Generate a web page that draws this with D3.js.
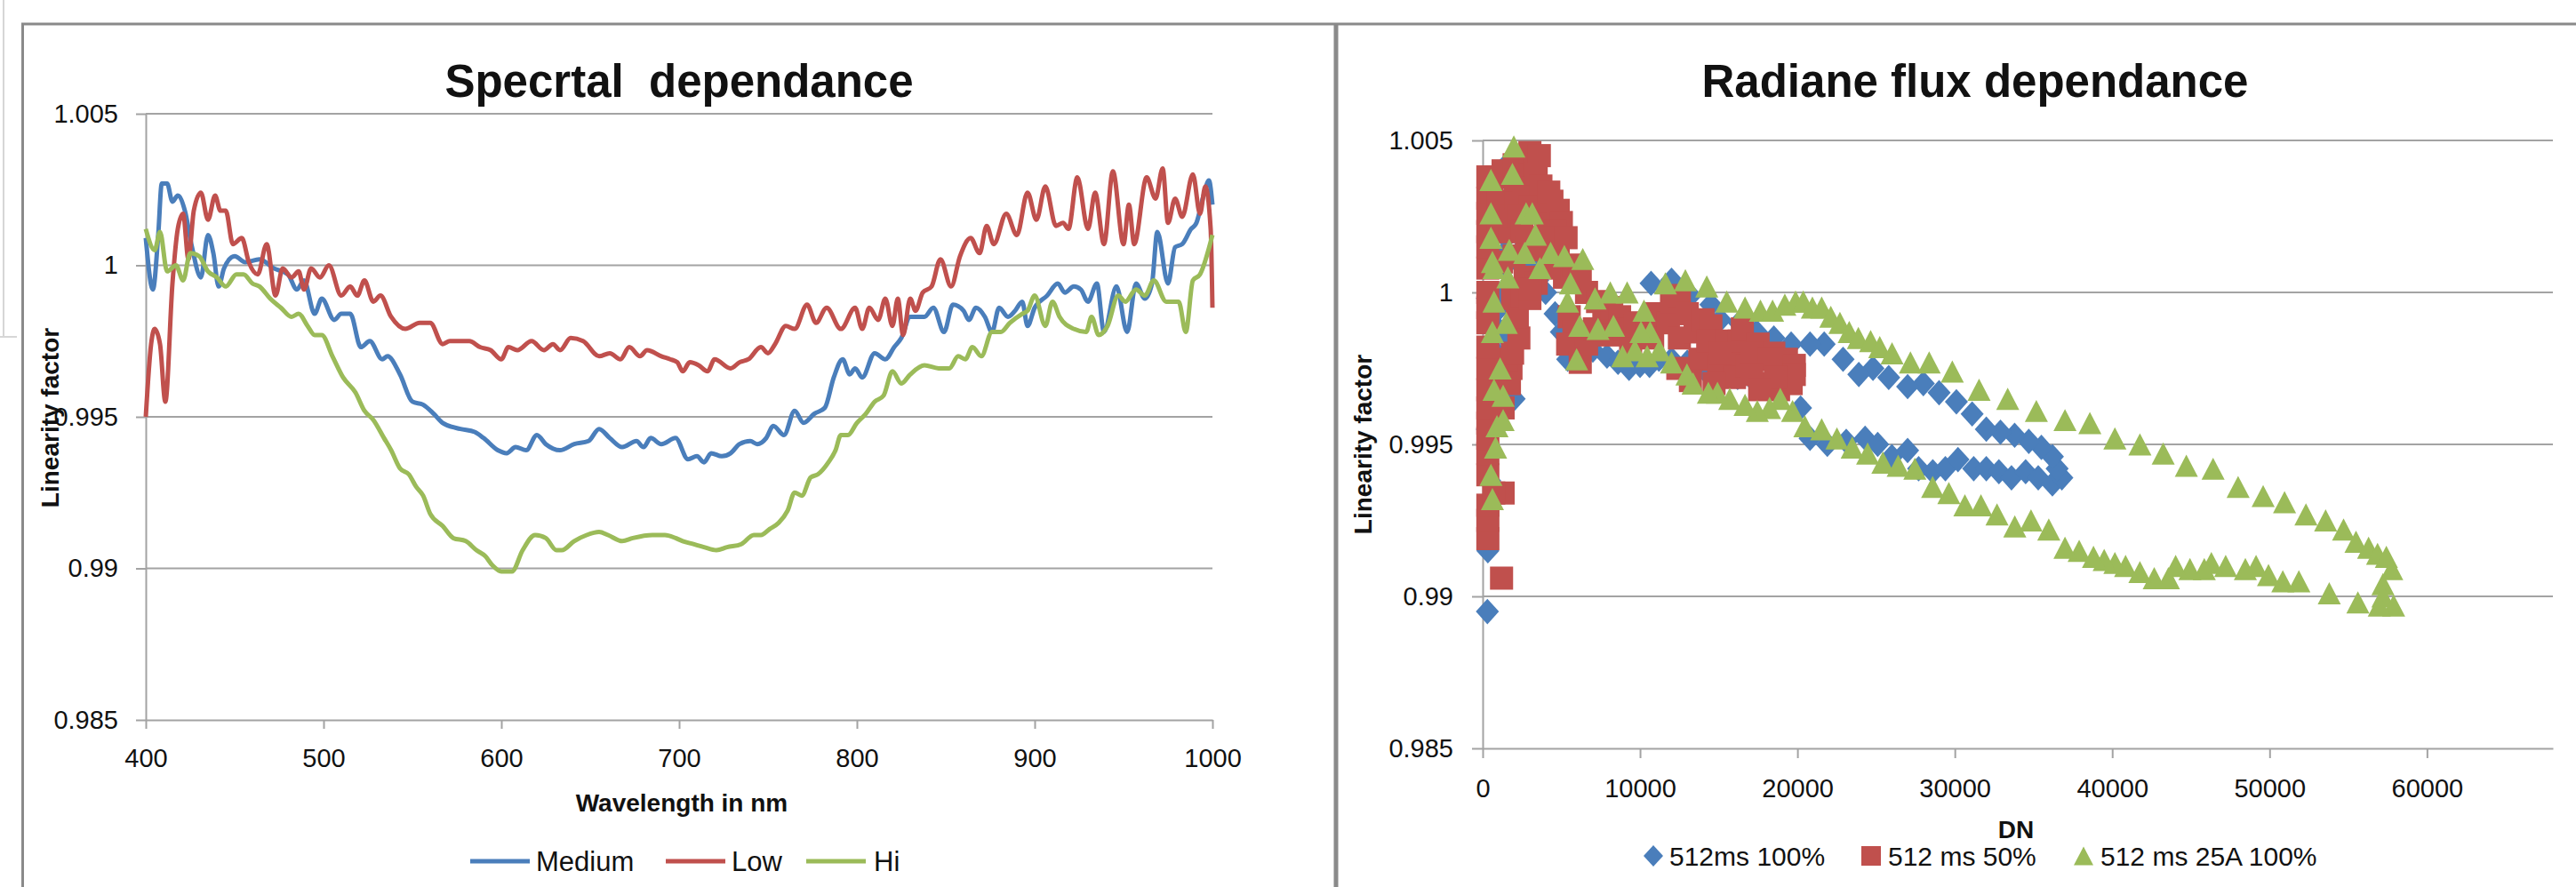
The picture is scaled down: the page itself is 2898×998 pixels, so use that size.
<!DOCTYPE html>
<html>
<head>
<meta charset="utf-8">
<script src="https://cdn.jsdelivr.net/npm/d3@7"></script>
<style>
  body { margin: 0; background: #fff; }
  svg { display: block; }
  text { font-family: "Liberation Sans", Arial, sans-serif; fill: #111; }
</style>
</head>
<body>
<svg width="2898" height="998"></svg>
<script>
"use strict";

// ---- data ----
const wavelengthTicks = [400, 500, 600, 700, 800, 900, 1000];
const dnTicks = [0, 10000, 20000, 30000, 40000, 50000, 60000];
const factorTicks = [0.985, 0.99, 0.995, 1, 1.005];
const spectralNames = ["Medium", "Low", "Hi"];
const fluxNames = ["512ms 100%", "512 ms 50%", "512 ms 25A 100%"];

// [wavelength nm, linearity factor]
const mediumData = [[400,1.0009],[404,0.9992],[407,1.0010],[409,1.0027],[412,1.0027],[415,1.0021],[418,1.0023],[422,1.0018],[426,1.0006],[431,0.9996],[435,1.0010],[438,1.0004],[441,0.9993],[444,0.9999],[450,1.0003],[456,1.0001],[464,1.0002],[472,0.9999],[480,0.9997],[485,0.9992],[489,0.9995],[495,0.9984],[499,0.9989],[506,0.9982],[510,0.9984],[515,0.9984],[521,0.9973],[526,0.9975],[533,0.9969],[536,0.9970],[543,0.9964],[550,0.9955],[556,0.9954],[562,0.9951],[567,0.9948],[577,0.9946],[585,0.9945],[590,0.9943],[598,0.9939],[603,0.9938],[608,0.9940],[614,0.9939],[620,0.9944],[625,0.9941],[633,0.9939],[641,0.9941],[649,0.9942],[655,0.9946],[661,0.9943],[668,0.9940],[676,0.9942],[680,0.9940],[684,0.9943],[690,0.9941],[698,0.9943],[705,0.9936],[710,0.9937],[714,0.9935],[718,0.9938],[724,0.9937],[729,0.9938],[734,0.9941],[740,0.9942],[744,0.9941],[749,0.9943],[753,0.9947],[759,0.9944],[765,0.9952],[770,0.9948],[776,0.9951],[782,0.9953],[787,0.9963],[792,0.9969],[796,0.9964],[799,0.9966],[803,0.9963],[810,0.9971],[816,0.9969],[821,0.9973],[825,0.9976],[830,0.9983],[838,0.9983],[843,0.9986],[849,0.9978],[854,0.9987],[860,0.9985],[863,0.9982],[867,0.9986],[872,0.9983],[876,0.9978],[880,0.9986],[885,0.9983],[889,0.9985],[893,0.9988],[896,0.9980],[900,0.9986],[907,0.9990],[913,0.9994],[917,0.9991],[922,0.9993],[926,0.9992],[930,0.9988],[935,0.9994],[939,0.9978],[946,0.9993],[952,0.9978],[957,0.9994],[962,0.9989],[966,0.9994],[969,1.0011],[975,0.9994],[979,1.0006],[983,1.0007],[988,1.0012],[991,1.0014],[995,1.0023],[998,1.0028],[1000,1.0020]];

const lowData = [[400,0.9950],[403,0.9974],[405,0.9979],[408,0.9974],[411,0.9955],[415,0.9994],[418,1.0012],[421,1.0017],[424,1.0002],[427,1.0018],[431,1.0024],[435,1.0015],[439,1.0023],[442,1.0018],[445,1.0018],[449,1.0007],[454,1.0009],[458,1.0001],[463,0.9997],[468,1.0007],[473,0.9990],[477,0.9999],[482,0.9996],[486,0.9998],[489,0.9992],[493,0.9999],[498,0.9996],[503,1.0000],[510,0.9990],[515,0.9993],[519,0.9990],[523,0.9995],[528,0.9988],[532,0.9990],[538,0.9983],[546,0.9979],[554,0.9981],[560,0.9981],[567,0.9974],[571,0.9975],[582,0.9975],[588,0.9973],[594,0.9972],[600,0.9969],[604,0.9973],[609,0.9972],[617,0.9975],[624,0.9972],[629,0.9974],[633,0.9972],[639,0.9976],[646,0.9975],[655,0.9970],[661,0.9971],[667,0.9969],[672,0.9973],[678,0.9970],[682,0.9972],[690,0.9970],[695,0.9969],[699,0.9968],[702,0.9965],[706,0.9968],[711,0.9967],[716,0.9965],[720,0.9969],[729,0.9966],[734,0.9968],[739,0.9969],[746,0.9973],[750,0.9971],[754,0.9974],[760,0.9980],[765,0.9979],[772,0.9987],[777,0.9981],[783,0.9986],[791,0.9979],[799,0.9986],[803,0.9979],[807,0.9986],[812,0.9982],[816,0.9989],[820,0.9980],[823,0.9989],[826,0.9977],[830,0.9989],[833,0.9985],[837,0.9991],[842,0.9993],[847,1.0002],[853,0.9993],[858,1.0003],[864,1.0009],[869,1.0004],[873,1.0013],[877,1.0007],[884,1.0017],[890,1.0010],[896,1.0024],[901,1.0015],[906,1.0026],[912,1.0013],[916,1.0014],[919,1.0012],[924,1.0029],[930,1.0012],[934,1.0024],[939,1.0007],[944,1.0031],[950,1.0007],[953,1.0020],[956,1.0007],[963,1.0029],[968,1.0022],[972,1.0032],[975,1.0014],[979,1.0022],[983,1.0016],[989,1.0030],[993,1.0017],[996,1.0026],[999,1.0012],[1000,0.9986]];

const hiData = [[400,1.0012],[405,1.0005],[408,1.0011],[412,0.9998],[417,1.0000],[421,0.9995],[425,1.0004],[430,1.0003],[435,0.9998],[440,0.9996],[445,0.9993],[451,0.9997],[455,0.9997],[460,0.9994],[464,0.9993],[470,0.9989],[476,0.9986],[482,0.9983],[486,0.9984],[491,0.9980],[495,0.9977],[499,0.9977],[505,0.9970],[511,0.9963],[518,0.9958],[523,0.9952],[528,0.9949],[534,0.9943],[538,0.9939],[543,0.9933],[548,0.9931],[552,0.9927],[556,0.9924],[560,0.9918],[567,0.9914],[573,0.9910],[580,0.9909],[586,0.9906],[591,0.9904],[595,0.9901],[600,0.9899],[606,0.9899],[612,0.9906],[619,0.9911],[625,0.9910],[631,0.9906],[634,0.9906],[641,0.9909],[648,0.9911],[655,0.9912],[660,0.9911],[668,0.9909],[674,0.9910],[685,0.9911],[692,0.9911],[698,0.9910],[702,0.9909],[708,0.9908],[714,0.9907],[721,0.9906],[727,0.9907],[735,0.9908],[742,0.9911],[746,0.9911],[751,0.9913],[756,0.9915],[761,0.9919],[765,0.9925],[769,0.9924],[774,0.9930],[778,0.9931],[784,0.9935],[788,0.9939],[791,0.9944],[795,0.9944],[800,0.9948],[805,0.9951],[810,0.9955],[815,0.9957],[820,0.9965],[825,0.9961],[830,0.9964],[838,0.9967],[846,0.9966],[852,0.9966],[857,0.9970],[861,0.9969],[865,0.9973],[870,0.9970],[876,0.9978],[881,0.9978],[886,0.9981],[893,0.9984],[896,0.9985],[900,0.9990],[906,0.9980],[910,0.9988],[914,0.9983],[922,0.9979],[929,0.9978],[932,0.9983],[936,0.9977],[941,0.9980],[947,0.9990],[951,0.9988],[957,0.9992],[962,0.9990],[967,0.9995],[974,0.9988],[981,0.9988],[985,0.9978],[989,0.9995],[993,0.9997],[1000,1.0010]];

// [DN, linearity factor]
const ms512Full = [[300,0.9895],[330,0.9915],[400,0.9929],[450,0.9938],[500,0.9948],[300,0.9955],[600,0.9960],[700,0.9965],[2000,0.9965],[800,0.9973],[900,0.9980],[1500,0.9985],[1000,0.9988],[300,0.9998],[1100,0.9995],[1200,1.0000],[1300,1.0008],[1400,1.0013],[1500,1.0018],[1600,1.0026],[1700,1.0043],[1900,1.0035],[2200,1.0024],[2600,1.0015],[3000,1.0009],[3500,1.0004],[4000,1.0000],[4600,0.9993],[5000,0.9987],[5400,0.9978],[6200,0.9980],[7000,0.9981],[7900,0.9979],[8600,0.9977],[9300,0.9975],[10000,0.9976],[10600,0.9976],[11200,0.9978],[12000,0.9978],[13000,0.9977],[14000,0.9975],[15000,0.9973],[16200,0.9972],[17400,0.9970],[19000,0.9968],[20200,0.9962],[20800,0.9952],[21900,0.9950],[23100,0.9951],[24300,0.9952],[25100,0.9950],[26000,0.9946],[27000,0.9948],[27700,0.9942],[28600,0.9941],[29400,0.9942],[30200,0.9945],[31200,0.9942],[32000,0.9942],[32800,0.9941],[33600,0.9939],[34500,0.9941],[35300,0.9939],[36200,0.9937],[36800,0.9939],[36500,0.9942],[36200,0.9946],[35500,0.9949],[34700,0.9951],[33800,0.9953],[32900,0.9954],[32000,0.9955],[31100,0.9960],[30100,0.9964],[29000,0.9967],[28000,0.9970],[27000,0.9969],[25800,0.9972],[24800,0.9975],[23900,0.9973],[22900,0.9978],[21700,0.9983],[20800,0.9983],[19600,0.9983],[18500,0.9985],[17400,0.9987],[16300,0.9990],[15100,0.9991],[14500,0.9996],[13200,0.9999],[12000,1.0004],[10700,1.0003]];

const ms512Half = [[1200,0.9906],[330,0.9919],[330,0.9925],[330,0.9930],[1300,0.9934],[700,0.9934],[330,0.9940],[330,0.9947],[330,0.9952],[330,0.9957],[330,0.9962],[1300,0.9962],[330,0.9968],[1700,0.9970],[330,0.9975],[1800,0.9975],[1500,0.9978],[1900,0.9980],[330,0.9982],[2300,0.9985],[330,0.9990],[2200,0.9992],[330,0.9995],[1900,0.9998],[2500,0.9999],[3000,0.9998],[330,1.0000],[330,1.0008],[330,1.0015],[330,1.0020],[330,1.0026],[330,1.0031],[330,1.0038],[600,1.0033],[900,1.0038],[1300,1.0040],[2000,1.0042],[1000,1.0030],[1000,1.0020],[1700,1.0020],[1500,1.0025],[2100,1.0031],[2100,1.0037],[2600,1.0035],[2800,1.0042],[3000,1.0046],[3300,1.0042],[3600,1.0045],[3400,1.0039],[3700,1.0035],[3000,1.0028],[2300,1.0025],[2500,1.0020],[2800,1.0015],[2000,1.0012],[1200,1.0010],[2700,1.0005],[4000,1.0025],[4400,1.0030],[4200,1.0033],[4800,1.0027],[5000,1.0023],[4600,1.0020],[3800,1.0018],[4800,1.0015],[5300,1.0018],[5200,1.0005],[4200,1.0008],[3400,1.0014],[3400,1.0003],[3000,1.0001],[5800,1.0009],[6200,1.0005],[6600,1.0000],[5500,0.9992],[5800,0.9987],[5400,0.9983],[6200,0.9977],[6600,0.9983],[7100,0.9988],[7300,0.9997],[7700,0.9993],[8200,0.9995],[8000,0.9986],[8700,0.9992],[9000,0.9988],[9400,0.9983],[9700,0.9989],[10000,0.9990],[10400,0.9988],[10800,0.9985],[11000,0.9993],[11800,0.9990],[12000,0.9997],[12500,0.9999],[12500,0.9985],[13000,0.9993],[13500,0.9987],[13800,0.9978],[14000,0.9991],[14500,0.9989],[14300,0.9984],[15000,0.9976],[15500,0.9984],[15800,0.9978],[16000,0.9972],[16300,0.9984],[16500,0.9988],[16800,0.9976],[17500,0.9983],[17600,0.9978],[18000,0.9970],[18500,0.9980],[18800,0.9968],[19000,0.9975],[19300,0.9978],[19600,0.9970],[12400,0.9975],[13200,0.9971],[14700,0.9970],[15100,0.9980],[17100,0.9980],[18200,0.9978],[19800,0.9976],[19800,0.9973],[18600,0.9972],[17100,0.9973],[17600,0.9968]];

const ms512Amp = [[620,0.9932],[525,0.9940],[820,0.9949],[910,0.9956],[1300,0.9958],[1300,0.9966],[720,0.9968],[1110,0.9975],[620,0.9987],[1500,0.9990],[720,0.9997],[1600,1.0005],[720,1.0008],[620,1.0010],[525,1.0018],[525,1.0026],[525,1.0037],[1890,1.0039],[1980,1.0048],[1690,1.0014],[2760,1.0026],[3150,1.0026],[3350,1.0019],[2670,1.0013],[3640,1.0008],[4320,1.0013],[5190,1.0012],[6360,1.0011],[5580,1.0003],[5390,0.9997],[6170,0.9989],[5970,0.9978],[7140,0.9998],[8110,1.0000],[9180,1.0000],[7330,0.9988],[8310,0.9989],[8890,0.9979],[9670,0.9981],[10250,0.9994],[10640,0.9987],[10450,0.9979],[11610,1.0003],[12880,1.0004],[14240,1.0002],[15510,0.9997],[16670,0.9995],[17650,0.9994],[18420,0.9994],[19200,0.9996],[19880,0.9997],[20370,0.9997],[20950,0.9995],[21540,0.9995],[22120,0.9992],[22700,0.9990],[23290,0.9987],[23870,0.9985],[24650,0.9984],[25230,0.9982],[26010,0.9980],[27180,0.9977],[28370,0.9977],[29840,0.9974],[31540,0.9968],[33360,0.9965],[35180,0.9961],[37000,0.9958],[38580,0.9957],[40170,0.9952],[41760,0.9950],[43240,0.9947],[44710,0.9943],[46410,0.9942],[48000,0.9936],[49590,0.9933],[50950,0.9931],[52310,0.9927],[53560,0.9925],[54700,0.9922],[55490,0.9918],[56290,0.9916],[56860,0.9914],[57420,0.9913],[57760,0.9909],[57200,0.9904],[57200,0.9900],[57880,0.9897],[56970,0.9897],[55610,0.9898],[53790,0.9901],[51860,0.9905],[50840,0.9905],[49930,0.9907],[49140,0.9910],[48460,0.9909],[47210,0.9910],[46300,0.9911],[45850,0.9909],[44940,0.9909],[44030,0.9910],[43570,0.9906],[42670,0.9906],[41760,0.9908],[40850,0.9910],[40170,0.9911],[39490,0.9912],[38810,0.9913],[37900,0.9915],[37000,0.9916],[35970,0.9922],[34840,0.9925],[33810,0.9923],[32680,0.9927],[31660,0.9930],[30640,0.9930],[29620,0.9934],[28590,0.9936],[27460,0.9942],[26400,0.9943],[25430,0.9944],[24460,0.9947],[23480,0.9949],[22510,0.9952],[21540,0.9955],[20470,0.9956],[19690,0.9961],[18910,0.9965],[18230,0.9962],[17450,0.9961],[16670,0.9963],[15700,0.9965],[14920,0.9967],[14340,0.9967],[13370,0.9970],[12980,0.9973],[12000,0.9977],[11230,0.9981],[10060,0.9987]];

// ---- styles ----
const colors = ["#4a7ebb", "#c0504d", "#9bbb59"];
const gridColor = "#a3a3a3";
const frameColor = "#8a8a8a";

const svg = d3.select("svg");

// 외곽 프레임
svg.append("line").attr("x1", 4).attr("y1", 0).attr("x2", 4).attr("y2", 379)
  .style("stroke", "#d6d6d6").style("stroke-width", 2);
svg.append("line").attr("x1", 0).attr("y1", 379).attr("x2", 19).attr("y2", 379)
  .style("stroke", "#d6d6d6").style("stroke-width", 2);
svg.append("line").attr("x1", 24).attr("y1", 27).attr("x2", 2898).attr("y2", 27)
  .style("stroke", frameColor).style("stroke-width", 3);
svg.append("line").attr("x1", 25.5).attr("y1", 27).attr("x2", 25.5).attr("y2", 998)
  .style("stroke", frameColor).style("stroke-width", 3);
svg.append("line").attr("x1", 1503).attr("y1", 27).attr("x2", 1503).attr("y2", 998)
  .style("stroke", frameColor).style("stroke-width", 5);

function styleAxis(g, fontSize) {
  g.select(".domain").style("stroke", gridColor).style("stroke-width", 2);
  g.selectAll(".tick line").style("stroke", gridColor).style("stroke-width", 2);
  g.selectAll(".tick text").style("font-size", fontSize + "px").style("fill", "#111")
    .style("font-family", "'Liberation Sans', Arial, sans-serif");
}

function drawGrid(x, y) {
  svg.append("g").selectAll("line")
    .data(factorTicks.slice(1))
    .join("line")
    .attr("x1", x.range()[0]).attr("x2", x.range()[1])
    .attr("y1", d => y(d)).attr("y2", d => y(d))
    .style("stroke", gridColor).style("stroke-width", 2);
}

// ---- left: spectral dependance ----
const xL = d3.scaleLinear().domain([400, 1000]).range([164, 1364]);
const yL = d3.scaleLinear().domain([0.985, 1.005]).range([810, 128]);

drawGrid(xL, yL);

svg.append("g").attr("transform", "translate(164,0)")
  .call(d3.axisLeft(yL).tickValues(factorTicks).tickFormat(d => String(d))
    .tickSize(11).tickSizeOuter(0).tickPadding(20))
  .call(g => styleAxis(g, 29));

svg.append("g").attr("transform", "translate(0,810)")
  .call(d3.axisBottom(xL).tickValues(wavelengthTicks).tickFormat(d => String(d))
    .tickSize(10).tickSizeOuter(0).tickPadding(22))
  .call(g => styleAxis(g, 29));

const line = d3.line().x(d => xL(d[0])).y(d => yL(d[1])).curve(d3.curveMonotoneX);
[mediumData, lowData, hiData].forEach((s, i) => {
  svg.append("path").datum(s).attr("d", line)
    .style("fill", "none").style("stroke", colors[i])
    .style("stroke-width", 5).style("stroke-linejoin", "round");
});

svg.append("text").attr("x", 764).attr("y", 109).attr("text-anchor", "middle")
  .style("font-size", "51px").style("font-weight", "bold").style("white-space", "pre")
  .text("Specrtal  dependance");
svg.append("text").attr("transform", "translate(56,470) rotate(-90)").attr("dy", "0.35em")
  .attr("text-anchor", "middle").style("font-size", "28px").style("font-weight", "bold")
  .text("Linearity factor");
svg.append("text").attr("x", 767).attr("y", 913).attr("text-anchor", "middle")
  .style("font-size", "28px").style("font-weight", "bold").text("Wavelength in nm");

// 범례 (왼쪽)
const legendL = [[529, 603], [749, 823], [907, 983]];
spectralNames.forEach((name, i) => {
  svg.append("line").attr("x1", legendL[i][0]).attr("x2", legendL[i][0] + 67)
    .attr("y1", 969).attr("y2", 969)
    .style("stroke", colors[i]).style("stroke-width", 5);
  svg.append("text").attr("x", legendL[i][1]).attr("y", 969).attr("dy", "0.35em")
    .style("font-size", "31px").text(name);
});

// ---- right: radiance flux dependance ----
const xR = d3.scaleLinear().domain([0, 68000]).range([1668, 2872]);
const yR = d3.scaleLinear().domain([0.985, 1.005]).range([842, 158]);

drawGrid(xR, yR);

svg.append("g").attr("transform", "translate(1668,0)")
  .call(d3.axisLeft(yR).tickValues(factorTicks).tickFormat(d => String(d))
    .tickSize(12).tickSizeOuter(0).tickPadding(21))
  .call(g => styleAxis(g, 29));

svg.append("g").attr("transform", "translate(0,842)")
  .call(d3.axisBottom(xR).tickValues(dnTicks).tickFormat(d => String(d))
    .tickSize(11).tickSizeOuter(0).tickPadding(23))
  .call(g => styleAxis(g, 29));

const shapes = [
  (w) => `M0,${-w * 0.55}L${w / 2},0L0,${w * 0.55}L${-w / 2},0Z`,
  (w) => `M${-w / 2},${-w / 2}h${w}v${w}h${-w}Z`,
  (w) => `M0,${-w * 0.48}L${w / 2},${w * 0.48}L${-w / 2},${w * 0.48}Z`
];

[ms512Full, ms512Half, ms512Amp].forEach((s, i) => {
  svg.append("g").selectAll("path")
    .data(s)
    .join("path")
    .attr("transform", d => `translate(${xR(d[0])},${yR(d[1])})`)
    .attr("d", shapes[i](26))
    .style("fill", colors[i]);
});

svg.append("text").attr("x", 2222).attr("y", 109).attr("text-anchor", "middle")
  .style("font-size", "51px").style("font-weight", "bold").text("Radiane flux dependance");
svg.append("text").attr("transform", "translate(1533,500) rotate(-90)").attr("dy", "0.35em")
  .attr("text-anchor", "middle").style("font-size", "28px").style("font-weight", "bold")
  .text("Linearity factor");
svg.append("text").attr("x", 2268).attr("y", 943).attr("text-anchor", "middle")
  .style("font-size", "28px").style("font-weight", "bold").text("DN");

// 범례 (오른쪽)
const legendR = [[1860, 1878], [2105, 2124], [2344, 2363]];
fluxNames.forEach((name, i) => {
  svg.append("path").attr("transform", `translate(${legendR[i][0]},963)`)
    .attr("d", shapes[i](22)).style("fill", colors[i]);
  svg.append("text").attr("x", legendR[i][1]).attr("y", 963).attr("dy", "0.35em")
    .style("font-size", "30px").text(name);
});
</script>
</body>
</html>
